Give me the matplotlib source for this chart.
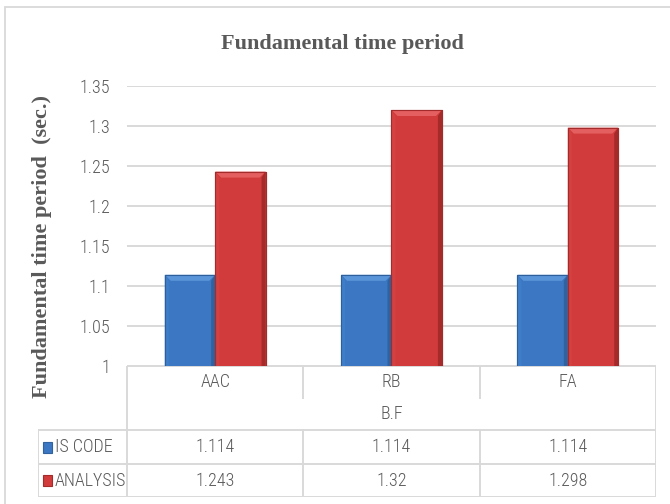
import matplotlib
matplotlib.use("Agg")
import matplotlib.pyplot as plt
from matplotlib.patches import Polygon, Rectangle
from matplotlib import font_manager

categories = ["AAC", "RB", "FA"]
group_label = "B.F"
series_names = ["IS CODE", "ANALYSIS"]
is_code = [1.114, 1.114, 1.114]
analysis = [1.243, 1.32, 1.298]
value_labels = [["1.114", "1.114", "1.114"], ["1.243", "1.32", "1.298"]]
yticks = [1, 1.05, 1.1, 1.15, 1.2, 1.25, 1.3, 1.35]
ytick_labels = ["1", "1.05", "1.1", "1.15", "1.2", "1.25", "1.3", "1.35"]
title = "Fundamental time period"
ylabel = "Fundamental time period  (sec.)"

# pick a narrow sans font if one is installed
fl = font_manager.fontManager.ttflist
narrow = [f for f in fl if f.style == "normal" and (
    "Narrow" in f.name or "Condensed" in f.name or
    str(f.stretch) in ("condensed", "semi-condensed", "extra-condensed", "ultra-condensed")
    or (isinstance(f.stretch, int) and f.stretch < 500))]
NARROW_PROPS = dict(fontfamily="Liberation Sans")
if narrow:
    pref = sorted(narrow, key=lambda f: (0 if "Roboto" in f.name or "Liberation" in f.name else 1,
                                         abs((f.weight if isinstance(f.weight, int) else 400) - 300)))
    f0 = pref[0]
    NARROW_PROPS = dict(fontproperties=font_manager.FontProperties(fname=f0.fname))
SERIF = "Liberation Serif"
GRAY = "#595959"
LINE = "#d9d9d9"
FS = 13

W, H = 670, 504
fig = plt.figure(figsize=(W / 100, H / 100), dpi=100)


def fx(px):
    return px / W


def fy(py):
    return 1 - py / H


def nprops(size):
    d = dict(NARROW_PROPS)
    if "fontproperties" in d:
        fp = d["fontproperties"].copy()
        fp.set_size(size)
        return dict(fontproperties=fp)
    d["fontsize"] = size
    return d


# outer chart border
fig.patches.append(Rectangle((fx(5), fy(540)), fx(700), 533 / H,
                             transform=fig.transFigure, fill=False,
                             edgecolor=LINE, linewidth=1.3))

# main plot axes: x 127..656, y 86..366
ax = fig.add_axes([fx(127), fy(366), fx(656 - 127), (366 - 86) / H])
ax.set_xlim(-0.5, 2.5)
ax.set_ylim(1.0, 1.35)
for s in ax.spines.values():
    s.set_visible(False)
ax.set_yticks(yticks)
ax.set_yticklabels(ytick_labels, color=GRAY, **nprops(FS))
ax.tick_params(axis="y", length=0, pad=12)
ax.set_xticks([])
ax.grid(axis="y", color=LINE, linewidth=1.4)
ax.set_axisbelow(True)

bw = 1 / 3.5
styles = [
    dict(face="#3b77c2", top="#5b95d9", left="#407dc8", right="#2f629f", edge="#2d5f9c"),
    dict(face="#d13b3b", top="#e45f5f", left="#d44141", right="#a52a2a", edge="#a32b2b"),
]
bevel_px = 6
bx = 4 / ((656 - 127) / 3)
by = bevel_px * 0.35 / 280

for i, (vals, st) in enumerate(zip([is_code, analysis], styles)):
    xs = [k - bw / 2 + i * bw for k in range(len(categories))]
    bars = ax.bar(xs, vals, width=bw, bottom=0, align="center",
                  color=st["face"], edgecolor=st["edge"], linewidth=0.8, zorder=2)
    for b in bars:
        x0, x1 = b.get_x(), b.get_x() + b.get_width()
        top = b.get_height()
        bxx = bevel_px / ((656 - 127) / 3)
        ax.add_patch(Polygon([(x0, top), (x1, top), (x1 - bxx, top - by), (x0 + bxx, top - by)],
                             closed=True, facecolor=st["top"], edgecolor="none", zorder=3))
        ax.add_patch(Polygon([(x0, 0), (x0, top), (x0 + bx, top - by), (x0 + bx, 0)],
                             closed=True, facecolor=st["left"], edgecolor="none", zorder=3))
        ax.add_patch(Polygon([(x1, 0), (x1, top), (x1 - bx, top - by), (x1 - bx, 0)],
                             closed=True, facecolor=st["right"], edgecolor="none", zorder=3))
        ax.add_patch(Rectangle((x0, 0), x1 - x0, top, fill=False,
                               edgecolor=st["edge"], linewidth=0.8, zorder=4))

# data table axes: x 38..656, y 366..497
col_px = (656 - 127) / 3
xl = -0.5 - (127 - 38) / col_px
tab = fig.add_axes([fx(38), fy(497), fx(656 - 38), (497 - 366) / H])
tab.set_xlim(xl, 2.5)
tab.set_ylim(497, 366)
tab.axis("off")
r_cat, r_grp, r_s1, r_s2, r_end = 366, 398, 430, 464, 497
lk = dict(color=LINE, linewidth=1.4, solid_capstyle="projecting")
tab.plot([-0.5, 2.5], [r_cat, r_cat], **lk)
for yy in (r_s1, r_s2, r_end):
    tab.plot([xl, 2.5], [yy, yy], **lk)
tab.plot([-0.5, -0.5], [r_cat, r_end], **lk)
tab.plot([2.5, 2.5], [r_cat, r_end], **lk)
tab.plot([xl, xl], [r_s1, r_end], **lk)
for k in range(1, len(categories)):
    tab.plot([k - 0.5, k - 0.5], [r_cat, r_grp], **lk)
    tab.plot([k - 0.5, k - 0.5], [r_s1, r_end], **lk)

tk = dict(color=GRAY, ha="center", va="center", **nprops(FS))
for k, c in enumerate(categories):
    tab.text(k, (r_cat + r_grp) / 2, c, **tk)
tab.text((len(categories) - 1) / 2, (r_grp + r_s1) / 2, group_label, **tk)
rows = [(r_s1, r_s2), (r_s2, r_end)]
for i, (ra, rb) in enumerate(rows):
    yc = (ra + rb) / 2
    for k in range(len(categories)):
        tab.text(k, yc, value_labels[i][k], **tk)
    kx = xl + 5 / col_px
    kw = 9 / col_px
    tab.add_patch(Rectangle((kx, yc - 5.5), kw, 11, facecolor=styles[i]["face"],
                            edgecolor=styles[i]["right"], linewidth=0.8, zorder=3))
    tab.text(xl + 17 / col_px, yc, series_names[i], color=GRAY, ha="left", va="center",
             **nprops(FS))

# title and y label
fig.text(fx(342), fy(44), title, fontfamily=SERIF, fontweight="bold", fontsize=16,
         color=GRAY, ha="center", va="center")
fig.text(fx(42), fy(247), ylabel, fontfamily=SERIF, fontweight="bold", fontsize=16,
         color=GRAY, ha="center", va="center", rotation=90)

fig.savefig("out.png", dpi=100)
